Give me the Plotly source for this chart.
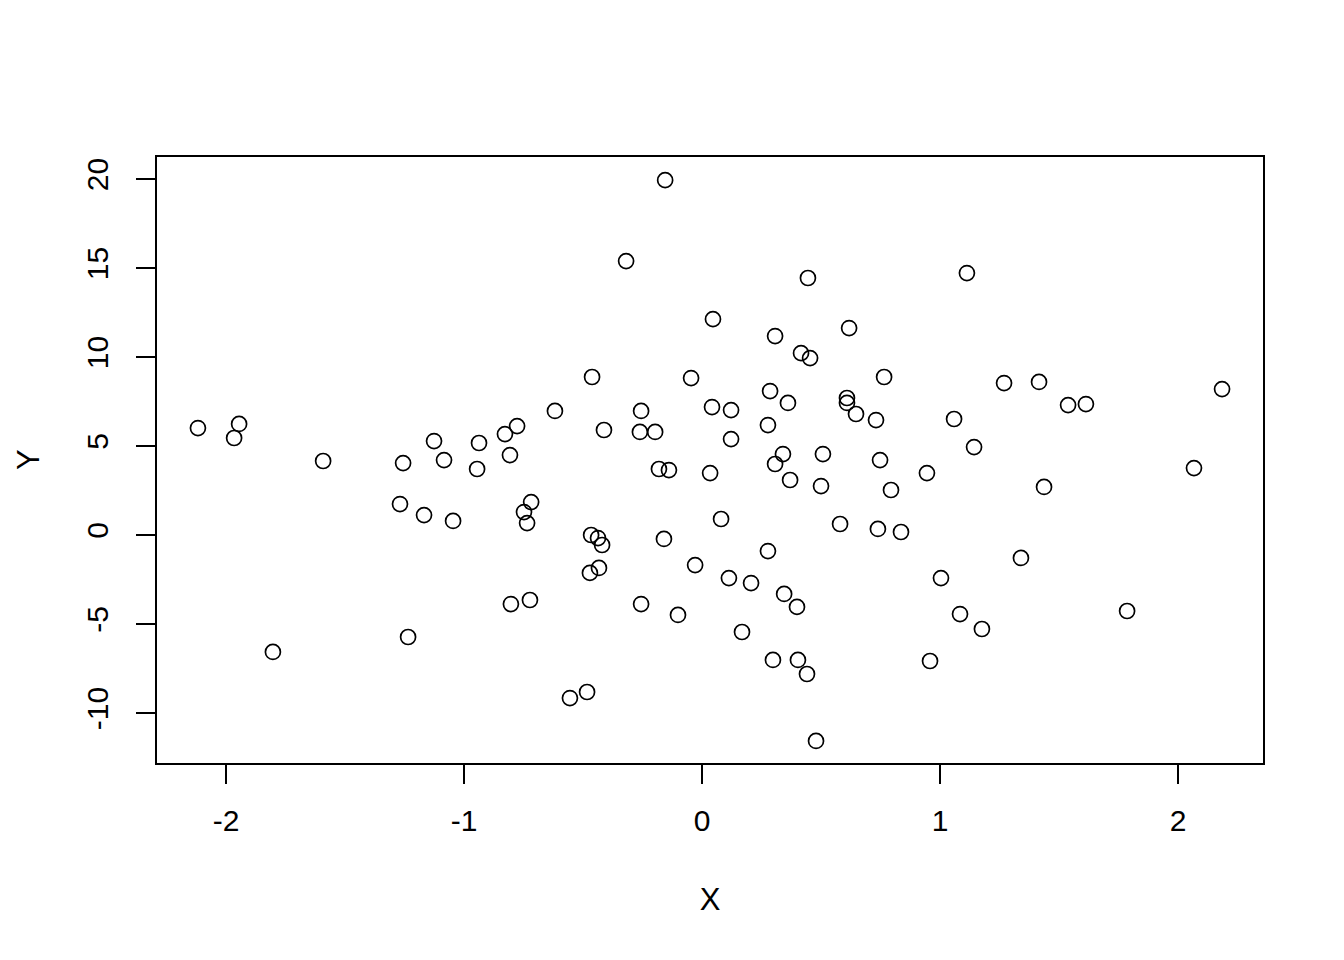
import plotly.graph_objects as go

x_vals = [-2.118, -1.966, -1.945, -1.803, -1.592, -1.269, -1.256, -1.235, -1.168, -1.126,
          -1.084, -1.046, -0.945, -0.937, -0.828, -0.807, -0.803, -0.777, -0.748, -0.735,
          -0.723, -0.718, -0.618, -0.555, -0.483, -0.471, -0.466, -0.462, -0.437, -0.433,
          -0.420, -0.412, -0.319, -0.261, -0.256, -0.256, -0.197, -0.181, -0.160, -0.155,
          -0.139, -0.101, -0.046, -0.029, 0.034, 0.042, 0.046, 0.080, 0.113, 0.122,
          0.122, 0.168, 0.206, 0.277, 0.277, 0.286, 0.298, 0.307, 0.307, 0.340,
          0.345, 0.361, 0.370, 0.399, 0.403, 0.416, 0.441, 0.445, 0.454, 0.479,
          0.500, 0.508, 0.580, 0.609, 0.609, 0.618, 0.647, 0.731, 0.739, 0.748,
          0.765, 0.794, 0.836, 0.945, 0.958, 1.004, 1.059, 1.084, 1.113, 1.143,
          1.176, 1.269, 1.340, 1.416, 1.437, 1.538, 1.613, 1.786, 2.067, 2.185]
y_vals = [6.01, 5.45, 6.24, -6.57, 4.16, 1.74, 4.04, -5.73, 1.12, 5.28,
          4.21, 0.79, 3.71, 5.17, 5.67, 4.49, -3.88, 6.12, 1.29, 0.67,
          -3.65, 1.85, 6.97, -9.16, -8.82, -2.13, 0.00, 8.88, -0.17, -1.85,
          -0.56, 5.90, 15.39, 5.79, -3.88, 6.97, 5.79, 3.71, -0.22, 19.94,
          3.65, -4.49, 8.82, -1.69, 3.48, 7.19, 12.13, 0.90, -2.42, 7.02,
          5.39, -5.45, -2.70, 6.18, -0.90, 8.09, -7.02, 11.18, 3.99, 4.55,
          -3.31, 7.42, 3.09, -4.04, -7.02, 10.22, -7.81, 14.44, 9.94, -11.57,
          2.75, 4.55, 0.62, 7.70, 7.42, 11.63, 6.80, 6.46, 0.34, 4.21,
          8.88, 2.53, 0.17, 3.48, -7.08, -2.42, 6.52, -4.44, 14.72, 4.94,
          -5.28, 8.54, -1.29, 8.60, 2.70, 7.30, 7.36, -4.27, 3.76, 8.20]

x_ticks = [-2, -1, 0, 1, 2]
y_ticks = [-10, -5, 0, 5, 10, 15, 20]

FONT = "Liberation Sans, Arial, Helvetica, sans-serif"

fig = go.Figure()
fig.add_trace(go.Scatter(
    x=x_vals, y=y_vals, mode="markers",
    marker=dict(symbol="circle-open", size=15, color="black", line=dict(width=1.7, color="black")),
    showlegend=False, hoverinfo="skip",
))

fig.update_layout(
    width=1344, height=960,
    margin=dict(l=149, r=89, t=149, b=205),
    paper_bgcolor="white", plot_bgcolor="white",
    font=dict(family=FONT, size=30, color="black"),
    xaxis=dict(
        range=[-2.29, 2.357], tickvals=x_ticks, ticktext=[str(v) for v in x_ticks],
        showgrid=False, zeroline=False, showline=True, linecolor="black", linewidth=1.5,
        mirror=True, ticks="outside", ticklen=19, tickwidth=1.5, tickcolor="black",
        ticklabelstandoff=11, automargin=False,
        title=dict(text="X", standoff=53, font=dict(family=FONT, size=31, color="black")),
    ),
    yaxis=dict(
        range=[-12.81, 21.24], tickvals=y_ticks, ticktext=[str(v) for v in y_ticks],
        tickangle=-90,
        showgrid=False, zeroline=False, showline=True, linecolor="black", linewidth=1.5,
        mirror=True, ticks="outside", ticklen=19, tickwidth=1.5, tickcolor="black",
        ticklabelstandoff=16, automargin=False,
    ),
    annotations=[dict(
        text="Y", textangle=-90, showarrow=False,
        xref="paper", yref="paper", x=0, y=0.5,
        xanchor="center", yanchor="middle", xshift=-129,
        font=dict(family=FONT, size=31, color="black"),
    )],
)

fig.write_html("out.html")
